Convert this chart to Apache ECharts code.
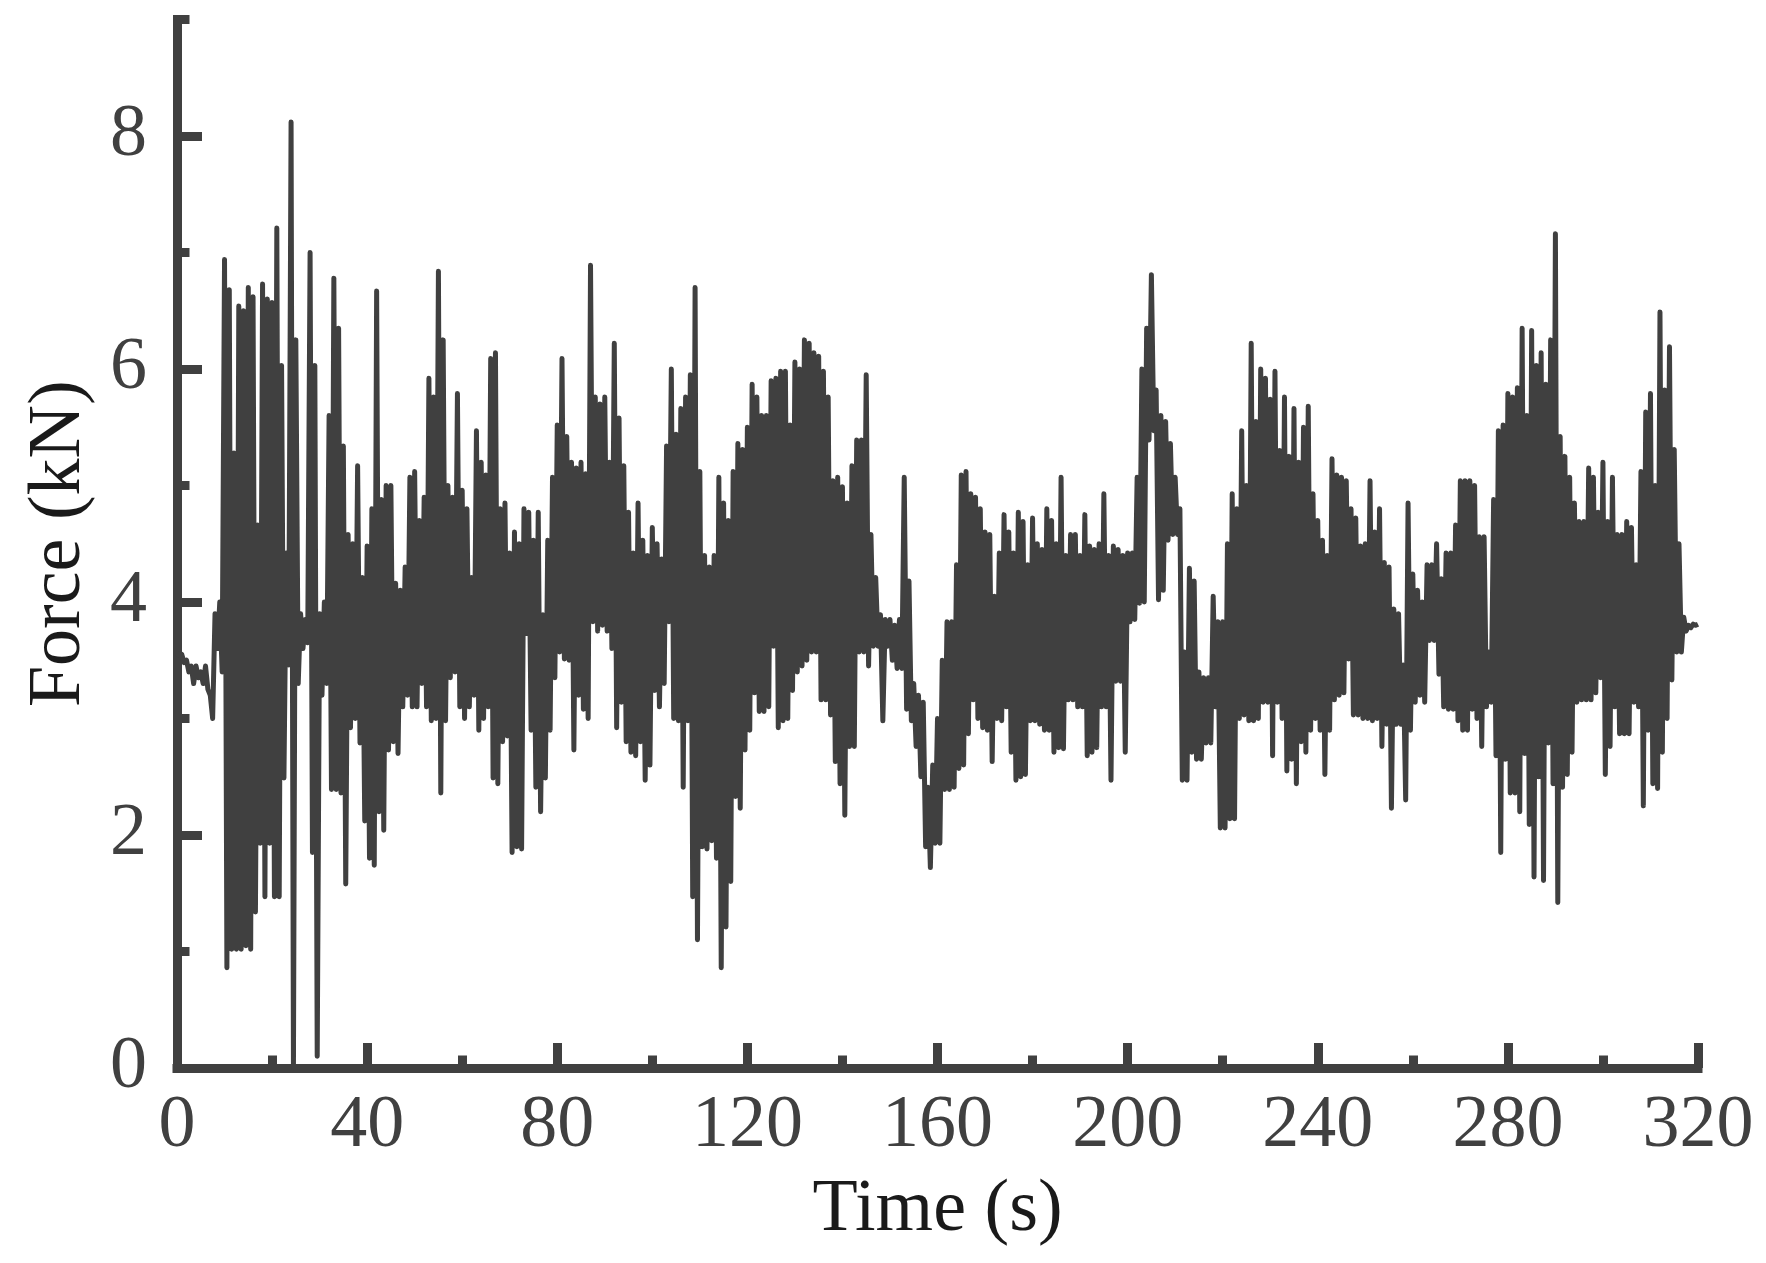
<!DOCTYPE html>
<html>
<head>
<meta charset="utf-8">
<script src="https://cdn.jsdelivr.net/npm/echarts@6/dist/echarts.min.js"></script>
<style>
  html, body { margin: 0; background: #fff; }
  #chart { width: 1766px; height: 1263px; }
</style>
</head>
<body>
<div id="chart"></div>
<script>
// force record: one peak (at t) and one trough (at t + 0.5) per second
var peaks = [
  3.56, 3.55, 3.50, 3.45, 3.45, 3.40, 3.45, 3.20, 3.90, 4.00,
  6.94, 6.68, 5.28, 6.54, 6.50, 6.70, 6.62, 4.66, 6.73, 6.60,
  6.57, 7.21, 6.03, 4.42, 8.12, 6.25, 3.90, 3.85, 7.00, 6.03,
  3.90, 4.00, 5.60, 6.78, 6.35, 5.34, 4.58, 4.50, 5.17, 4.21,
  4.48, 4.80, 6.67, 4.88, 5.00, 5.00, 4.16, 4.10, 4.30, 5.07,
  5.12, 4.70, 4.90, 5.92, 5.76, 6.84, 6.25, 5.00, 4.90, 5.79,
  4.96, 4.80, 4.21, 5.47, 5.20, 5.09, 6.09, 6.14, 4.80, 4.85,
  4.42, 4.60, 4.50, 4.80, 4.77, 4.53, 4.77, 3.89, 4.53, 5.07,
  5.52, 6.09, 5.42, 5.20, 5.15, 5.20, 5.10, 6.89, 5.76, 5.70,
  5.76, 5.20, 6.22, 5.58, 5.17, 4.77, 4.42, 4.85, 4.53, 4.40,
  4.64, 4.50, 4.37, 5.34, 6.00, 5.44, 5.66, 5.76, 5.95, 6.70,
  5.12, 4.40, 4.30, 4.40, 5.07, 4.85, 4.70, 5.12, 5.36, 5.31,
  5.50, 5.87, 5.76, 5.60, 5.60, 5.90, 5.92, 5.98, 5.98, 5.52,
  6.06, 6.00, 6.25, 6.22, 6.14, 6.11, 5.98, 5.76, 5.04, 5.07,
  4.99, 4.85, 5.17, 5.39, 5.39, 5.95, 4.58, 4.21, 3.89, 3.85,
  3.85, 3.80, 3.85, 5.07, 4.18, 3.30, 3.20, 3.14, 2.41, 2.60,
  3.00, 3.50, 3.83, 3.83, 4.32, 5.09, 5.12, 4.93, 4.90, 4.80,
  4.60, 4.58, 4.05, 4.42, 4.75, 4.60, 4.42, 4.77, 4.69, 4.32,
  4.72, 4.50, 4.45, 4.80, 4.70, 4.50, 5.07, 4.40, 4.58, 4.58,
  4.40, 4.75, 4.48, 4.45, 4.50, 4.93, 4.40, 4.48, 4.45, 4.40,
  4.42, 4.42, 5.07, 6.00, 6.35, 6.81, 5.82, 5.60, 5.55, 5.36,
  5.07, 4.80, 3.57, 4.29, 4.18, 3.40, 3.35, 3.35, 4.05, 3.83,
  3.83, 4.50, 4.93, 4.80, 5.47, 5.00, 6.22, 5.55, 6.00, 5.92,
  5.74, 5.98, 5.30, 5.76, 5.25, 5.66, 5.20, 5.50, 5.68, 4.93,
  4.70, 4.53, 4.40, 5.23, 5.09, 5.07, 5.04, 4.80, 4.72, 4.48,
  4.50, 5.04, 4.60, 4.80, 4.34, 4.30, 3.94, 3.90, 3.46, 4.85,
  4.24, 4.10, 4.00, 4.32, 4.32, 4.50, 4.20, 4.42, 4.42, 4.66,
  5.04, 5.04, 5.04, 5.00, 4.56, 4.56, 3.57, 4.88, 5.47, 5.52,
  5.79, 5.76, 5.84, 6.35, 5.60, 6.33, 6.03, 6.14, 5.87, 6.25,
  7.16, 5.42, 5.25, 5.07, 4.85, 4.69, 4.69, 5.15, 5.07, 4.77,
  5.20, 4.69, 5.07, 4.58, 4.58, 4.69, 4.64, 4.32, 5.12, 5.63,
  5.79, 5.00, 6.49, 5.82, 6.19, 5.31, 4.50, 3.87, 3.80, 3.81
];
var troughs = [
  3.54, 3.48, 3.40, 3.30, 3.35, 3.30, 3.25, 3.00, 3.60, 3.40,
  0.86, 1.02, 1.02, 1.02, 1.05, 1.02, 1.34, 1.93, 1.47, 1.93,
  1.47, 1.47, 2.49, 3.46, 0.00, 3.30, 3.60, 3.65, 1.85, 0.10,
  3.20, 3.30, 2.39, 2.39, 2.36, 1.58, 2.92, 3.00, 2.79, 2.12,
  1.80, 1.74, 2.20, 2.04, 2.73, 2.80, 2.70, 3.10, 3.20, 3.10,
  3.10, 3.30, 3.10, 2.98, 3.00, 2.36, 2.98, 3.35, 3.40, 3.10,
  3.00, 3.10, 3.20, 2.90, 3.00, 3.10, 2.49, 2.44, 2.80, 2.85,
  1.85, 1.90, 1.88, 3.73, 2.90, 2.41, 2.20, 2.49, 2.90, 3.35,
  3.57, 3.51, 3.50, 2.73, 3.20, 3.08, 3.00, 3.83, 3.75, 3.80,
  3.75, 3.60, 2.92, 3.14, 2.80, 2.71, 2.68, 2.80, 2.47, 2.60,
  3.24, 3.10, 3.30, 3.83, 3.00, 2.98, 2.41, 2.98, 1.47, 1.10,
  1.90, 1.88, 1.95, 1.80, 0.86, 1.21, 1.60, 2.33, 2.23, 2.73,
  2.90, 3.22, 3.06, 3.06, 3.10, 3.62, 2.92, 2.98, 3.00, 3.24,
  3.40, 3.45, 3.50, 3.57, 3.57, 3.16, 3.16, 3.03, 2.63, 2.44,
  2.17, 2.76, 2.76, 3.57, 3.57, 3.45, 3.62, 3.62, 2.98, 3.62,
  3.50, 3.43, 3.43, 3.08, 2.98, 2.76, 2.50, 1.90, 1.72, 1.93,
  1.93, 2.39, 2.39, 2.41, 2.57, 2.60, 2.87, 3.16, 3.00, 2.92,
  2.90, 2.63, 3.00, 2.98, 3.10, 2.71, 2.47, 2.50, 2.52, 2.98,
  2.98, 2.95, 2.90, 2.90, 2.71, 2.75, 2.74, 3.16, 3.16, 3.10,
  3.10, 2.68, 2.71, 2.75, 3.10, 3.10, 2.47, 3.32, 3.32, 2.71,
  3.83, 3.85, 3.99, 4.00, 5.39, 5.47, 4.02, 4.10, 4.53, 4.58,
  4.58, 2.47, 2.47, 2.71, 2.65, 2.65, 2.79, 2.79, 3.10, 2.06,
  2.06, 2.14, 2.14, 3.00, 3.03, 2.98, 2.98, 3.00, 3.14, 3.14,
  2.68, 3.14, 3.00, 2.55, 2.65, 2.44, 2.80, 2.71, 2.90, 3.00,
  2.90, 2.52, 2.90, 3.16, 3.20, 3.22, 3.51, 3.03, 3.03, 3.00,
  3.00, 2.98, 3.00, 2.76, 2.95, 2.23, 2.95, 2.95, 2.30, 2.90,
  3.14, 3.20, 3.14, 3.67, 3.67, 3.38, 3.10, 3.08, 3.08, 2.98,
  2.90, 2.90, 3.08, 3.00, 2.76, 3.10, 3.14, 2.68, 1.85, 2.65,
  2.36, 2.36, 2.20, 2.70, 2.09, 1.64, 2.50, 1.61, 2.79, 2.44,
  1.42, 2.41, 2.52, 2.71, 3.14, 3.16, 3.16, 3.16, 3.22, 3.35,
  2.52, 2.76, 3.10, 2.87, 2.87, 2.87, 3.14, 3.10, 2.25, 2.90,
  2.44, 2.40, 2.71, 3.00, 3.33, 3.57, 3.57, 3.75, 3.78, 3.80
];
var endPoint = [320, 3.81];

// axis ticks
var yMajor = [0, 2, 4, 6, 8];
var yMinor = [1, 3, 5, 7, 9];

var ink = '#404040';
var font = '"Liberation Serif", "Times New Roman", serif';

var forceData = [];
for (var i = 0; i < peaks.length; i++) {
  forceData.push([i, peaks[i]]);
  forceData.push([i + 0.5, troughs[i]]);
}
forceData.push(endPoint);

var chart = echarts.init(document.getElementById('chart'));

chart.setOption({
  animation: false,
  backgroundColor: '#fff',
  grid: { left: 177, right: 68, top: 19.5, bottom: 195 },
  xAxis: {
    type: 'value',
    min: 0,
    max: 320,
    interval: 40,
    name: 'Time (s)',
    nameLocation: 'middle',
    nameGap: 106,
    nameTextStyle: { fontFamily: font, fontSize: 74, color: '#1a1a1a' },
    axisLine: { lineStyle: { color: ink, width: 9, cap: 'square' } },
    axisTick: { inside: true, length: 25, lineStyle: { color: ink, width: 9 } },
    minorTick: { show: true, splitNumber: 2, length: 12.5, lineStyle: { color: ink, width: 9 } },
    axisLabel: { fontFamily: font, fontSize: 74, color: ink, margin: 22 },
    splitLine: { show: false }
  },
  yAxis: [
    {
      type: 'value',
      min: 0,
      max: 9,
      position: 'left',
      name: 'Force (kN)',
      nameLocation: 'middle',
      nameGap: 80,
      nameTextStyle: { fontFamily: font, fontSize: 74, color: '#1a1a1a' },
      axisLine: { show: true, lineStyle: { color: ink, width: 9, cap: 'square' } },
      axisTick: { show: true, inside: true, length: 25, customValues: yMajor, lineStyle: { color: ink, width: 9 } },
      axisLabel: { fontFamily: font, fontSize: 74, color: ink, margin: 30, customValues: yMajor },
      splitLine: { show: false }
    },
    {
      // short ticks at the odd values
      type: 'value',
      min: 0,
      max: 9,
      position: 'left',
      axisLine: { show: false },
      axisTick: { show: true, inside: true, length: 12.5, customValues: yMinor, lineStyle: { color: ink, width: 9 } },
      axisLabel: { show: false },
      splitLine: { show: false }
    }
  ],
  series: [{
    type: 'line',
    data: forceData,
    showSymbol: false,
    sampling: 'none',
    lineStyle: { color: ink, width: 5, join: 'round' }
  }]
});
</script>
</body>
</html>
